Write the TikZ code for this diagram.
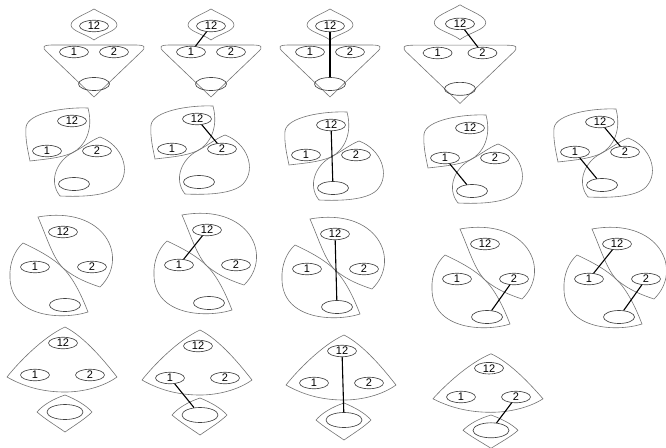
\documentclass[tikz,border=0pt]{standalone}
\usepackage{fontspec}
\setmainfont{Liberation Sans}
\usetikzlibrary{shapes.geometric}

\begin{document}
\begin{tikzpicture}[x=1pt, y=-1pt,
    oval/.style={ellipse, draw=black!75, line width=0.65pt, minimum width=29pt,
                 minimum height=11.5pt, inner sep=0pt, font=\fontsize{11}{12}\selectfont},
    bigoval/.style={oval, minimum width=31pt, minimum height=13pt},
    region/.style={draw=black!55, line width=0.6pt},
    link/.style={black, line width=1.1pt},
    % 1-qator: romb + uchburchak
    tripic/.pic={
      \draw[region] (0,-43) .. controls (-10,-37) and (-23,-33) .. (-23,-27)
        .. controls (-23,-21) and (-8,-18) .. (0,-12)
        .. controls (8,-18) and (23,-21) .. (23,-27)
        .. controls (23,-33) and (10,-37) .. (0,-43) -- cycle;
      \draw[region] (0,45) -- (-46,1) .. controls (-54,-6) and (-50,-7) .. (-40,-7)
        -- (40,-7) .. controls (50,-7) and (54,-6) .. (46,1) -- cycle;
      \node[oval] (-12) at (0,-26) {12};
      \node[oval] (-1) at (-20,0) {1};
      \node[oval] (-2) at (20,0) {2};
      \node[bigoval] (-0) at (0,32) {};
    },
    % 2-qator: {12,1} va {2,0}
    twopic/.pic={
      \draw[region] (16,-45) .. controls (-8,-46) and (-44,-40) .. (-46,-26)
        .. controls (-47,-14) and (-44,-2) .. (-42,8)
        .. controls (-25,6) and (-12,5) .. (0,0)
        .. controls (12,-6) and (22,-22) .. (16,-45) -- cycle;
      \draw[region] (28,-16) .. controls (50,-8) and (60,18) .. (46,33)
        .. controls (36,43) and (10,44) .. (-12,43)
        .. controls (-24,28) and (-15,8) .. (0,0)
        .. controls (10,-5) and (18,-12) .. (28,-16) -- cycle;
      \node[oval] (-12) at (0,-32) {12};
      \node[oval] (-1) at (-25,-2) {1};
      \node[oval] (-2) at (25,-2) {2};
      \node[bigoval] (-0) at (2,31) {};
    },
    % 3-qator: {12,2} va {1,0}
    crosspic/.pic={
      \draw[region] (-25,-51) .. controls (-16,-30) and (-10,-10) .. (0,0)
        .. controls (12,10) and (25,15) .. (37,19)
        .. controls (67,-10) and (42,-63) .. (-25,-51) -- cycle;
      \draw[region] (-40,-25) .. controls (-25,-18) and (-10,-10) .. (0,0)
        .. controls (10,10) and (18,26) .. (25,44)
        .. controls (0,52) and (-52,50) .. (-53,10)
        .. controls (-54,-5) and (-48,-18) .. (-40,-25) -- cycle;
      \node[oval] (-12) at (0,-36) {12};
      \node[oval] (-1) at (-28,-1) {1};
      \node[oval] (-2) at (29,-1) {2};
      \node[bigoval] (-0) at (2,37) {};
    },
    % 4-qator: yelpig'ich + romb
    fanpic/.pic={
      \draw[region] (2,-48) .. controls (-20,-38) and (-45,-12) .. (-56,2)
        .. controls (-35,14) and (-15,17) .. (2,17)
        .. controls (20,17) and (40,12) .. (54,2)
        .. controls (43,-12) and (22,-38) .. (2,-48) -- cycle;
      \draw[region] (2,20) .. controls (-10,24) and (-20,30) .. (-26,37)
        .. controls (-18,44) and (-8,50) .. (2,57)
        .. controls (12,50) and (22,44) .. (29,37)
        .. controls (23,30) and (12,24) .. (2,20) -- cycle;
      \node[oval] (-12) at (0,-32) {12};
      \node[oval] (-1) at (-28,0) {1};
      \node[oval] (-2) at (27,0) {2};
      \node[bigoval, minimum width=36pt, minimum height=15pt] (-0) at (2,37) {};
    }
  ]
  \useasboundingbox (0,0) rectangle (666,447);

  % 1-qator
  \pic (t1) at (94,52) {tripic};
  \pic (t2) at (211,52) {tripic};
  \pic (t3) at (330,52) {tripic};
  \pic[scale=1.12] (t4) at (460,53) {tripic};

  % 2-qator
  \pic (u1) at (72,153) {twopic};
  \pic (u2) at (197,151) {twopic};
  \pic (u3) at (331,157) {twopic};
  \pic (u4) at (470,160) {twopic};
  \pic (u5) at (600,154) {twopic};

  % 3-qator
  \pic (v1) at (63,268) {crosspic};
  \pic (v2) at (207,266) {crosspic};
  \pic (v3) at (335,270) {crosspic};
  \pic (v4) at (485,280) {crosspic};
  \pic (v5) at (617,280) {crosspic};

  % 4-qator
  \pic (w1) at (63,375) {fanpic};
  \pic (w2) at (198,378) {fanpic};
  \pic (w3) at (342,383) {fanpic};
  \pic[yscale=0.9] (w4) at (489,397) {fanpic};

  % bog'lanishlar
  \foreach \p/\q in {t2-12/t2-1, t3-12/t3-0, t4-12/t4-2,
                     u2-12/u2-2, u3-12/u3-0, u4-1/u4-0, u5-12/u5-2, u5-1/u5-0,
                     v2-1/v2-12, v3-12/v3-0, v4-2/v4-0, v5-1/v5-12, v5-2/v5-0,
                     w2-1/w2-0, w3-12/w3-0, w4-2/w4-0}
    \draw[link] (\p) -- (\q);
\end{tikzpicture}
\end{document}
